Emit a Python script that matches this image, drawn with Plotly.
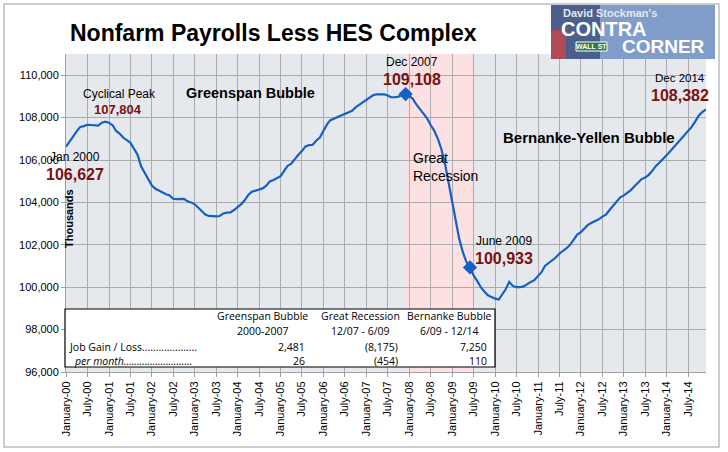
import pandas as pd
import plotly.graph_objects as go

# monthly nonfarm payrolls less HES complex, thousands, Jan 2000 - Dec 2014
months = pd.date_range("2000-01-01", "2014-12-01", freq="MS")
payrolls = [
    106627, 106850, 107100, 107350, 107560, 107600, 107660, 107650, 107640, 107620, 107760, 107804,  # 2000
    107760, 107640, 107380, 107250, 107060, 106950, 106820, 106540, 106250, 105700, 105380, 105050,  # 2001
    104800, 104640, 104560, 104460, 104380, 104330, 104170, 104150, 104150, 104170, 104050, 104000,  # 2002
    103910, 103750, 103560, 103430, 103360, 103340, 103340, 103360, 103480, 103520, 103530, 103640,  # 2003
    103760, 103920, 104100, 104350, 104500, 104560, 104620, 104660, 104790, 104990, 105060, 105150,  # 2004
    105240, 105500, 105720, 105830, 106050, 106250, 106420, 106640, 106700, 106720, 106920, 107060,  # 2005
    107380, 107690, 107880, 107960, 108010, 108100, 108180, 108260, 108320, 108480, 108600, 108730,  # 2006
    108810, 108930, 109060, 109100, 109110, 109100, 109040, 108960, 108960, 108990, 109060, 109108,  # 2007
    109020, 108880, 108620, 108380, 108200, 107960, 107650, 107380, 107000, 106500, 105800, 104880,  # 2008
    104000, 103080, 102290, 101650, 101200, 100933, 100560, 100300, 100000, 99800, 99620, 99540,     # 2009
    99460, 99420, 99620, 99900, 100250, 100060, 100000, 100000, 100040, 100150, 100250, 100330,      # 2010
    100520, 100720, 101000, 101130, 101300, 101400, 101580, 101700, 101840, 102000, 102250, 102480,  # 2011
    102600, 102800, 102940, 103040, 103120, 103200, 103330, 103420, 103640, 103830, 104050, 104240,  # 2012
    104330, 104440, 104580, 104760, 104950, 105100, 105170, 105300, 105500, 105720, 105880, 106030,  # 2013
    106230, 106420, 106600, 106800, 106980, 107160, 107350, 107560, 107820, 108100, 108270, 108382,  # 2014
]

tick_dates = pd.date_range("2000-01-01", "2014-07-01", freq="6MS")
tick_labels = [
    "January-00", "July-00", "January-01", "July-01", "January-02", "July-02",
    "January-03", "July-03", "January-04", "July-04", "January-05", "July-05",
    "January-06", "July-06", "January-07", "July-07", "January-08", "July-08",
    "January-09", "July-09", "January-10", "July-10", "January-11", "July-11",
    "January-12", "July-12", "January-13", "July-13", "January-14", "July-14",
]

recession = ["2007-12-01", "2009-07-01"]
marked_months = ["2007-12-01", "2009-06-01"]

periods = ["Greenspan Bubble", "Great Recession", "Bernanke Bubble"]
period_spans = ["2000-2007", "12/07 - 6/09", "6/09 - 12/14"]
job_change = ["2,481", "(8,175)", "7,250"]
per_month = ["26", "(454)", "110"]

RED = "#7b1010"
BLUE = "#1560c4"
FONT = "Liberation Sans, Arial, sans-serif"
TFONT = "Open Sans, sans-serif"

# plot area in pixels, used to place page furniture
L, R, T, B = 66, 706, 54, 372


def px(x):
    return (x - L) / (R - L)


def py(y):
    return (B - y) / (B - T)


fig = go.Figure()

fig.add_trace(go.Scatter(
    x=months, y=payrolls, mode="lines",
    line=dict(color=BLUE, width=2.2), hoverinfo="skip",
))

mark_vals = [payrolls[list(months).index(pd.Timestamp(m))] for m in marked_months]
fig.add_trace(go.Scatter(
    x=pd.to_datetime(marked_months), y=mark_vals, mode="markers",
    marker=dict(symbol="diamond", size=11, color=BLUE), hoverinfo="skip",
))

# recession band
fig.add_shape(type="rect", xref="x", yref="paper", x0=recession[0], x1=recession[1],
              y0=0, y1=1, fillcolor="#fde0e2", line_width=0, layer="below")

ann = []


def text(x, y, s, size=12, color="black", bold=False, italic=False, anchor="center", font=FONT):
    if bold:
        s = f"<b>{s}</b>"
    if italic:
        s = f"<i>{s}</i>"
    ann.append(dict(x=px(x), y=py(y), xref="paper", yref="paper", text=s, showarrow=False,
                    xanchor=anchor, yanchor="middle",
                    font=dict(family=font, size=size, color=color)))


text(68, 33, "Nonfarm Payrolls Less HES Complex", size=23, bold=True, anchor="left")

text(75, 157, "Jan 2000", size=12)
text(75, 174, "106,627", size=16, color=RED, bold=True)
text(119, 94, "Cyclical Peak", size=12)
text(118, 110, "107,804", size=13, color=RED, bold=True)
text(250, 93, "Greenspan Bubble", size=14.5, bold=True)
text(412, 62, "Dec 2007", size=12)
text(412, 79, "109,108", size=16, color=RED, bold=True)
text(411, 158, "Great", size=14, anchor="left")
text(411, 176, "Recession", size=14, anchor="left")
text(504, 241, "June 2009", size=12)
text(504, 258, "100,933", size=16, color=RED, bold=True)
text(589, 137, "Bernanke-Yellen Bubble", size=15, bold=True)
text(680, 78, "Dec 2014", size=11.5)
text(680, 95, "108,382", size=16, color=RED, bold=True)

ann.append(dict(x=px(61), y=py(219), xref="paper", yref="paper", text="<b>Thousands</b>",
                showarrow=False, textangle=-90, xanchor="left", yanchor="middle",
                font=dict(family=FONT, size=11, color="black")))

# summary table
fig.add_shape(type="rect", xref="paper", yref="paper", x0=px(65), x1=px(495),
              y0=py(367), y1=py(309), fillcolor="white", line=dict(color="black", width=1.2),
              layer="above")
col_centres = [262, 360, 449]
col_rights = [307, 400, 489]
for i in range(3):
    text(col_centres[i], 316, periods[i], size=10.5, font=TFONT)
    text(col_centres[i], 331, period_spans[i], size=10.5, font=TFONT)
    text(col_rights[i], 347, job_change[i], size=10.5, font=TFONT, anchor="right")
    text(col_rights[i], 361, per_month[i], size=10.5, font=TFONT, anchor="right")
text(67, 347, "Job Gain / Loss" + "." * 20, size=10.5, font=TFONT, anchor="left")
text(72, 361, "per month" + "." * 26, size=10.5, font=TFONT, anchor="left", italic=True)

# logo block
fig.add_shape(type="rect", xref="paper", yref="paper", x0=px(551), x1=px(715),
              y0=py(59), y1=py(5), fillcolor="#7f9ccb", line_width=0, layer="above")
fig.add_shape(type="rect", xref="paper", yref="paper", x0=px(551), x1=px(600),
              y0=py(59), y1=py(5), fillcolor="#4a5f8e", line_width=0, layer="above")
fig.add_shape(type="rect", xref="paper", yref="paper", x0=px(551), x1=px(566),
              y0=py(59), y1=py(30), fillcolor="#b04a55", line_width=0, layer="above")
fig.add_shape(type="rect", xref="paper", yref="paper", x0=px(576), x1=px(607),
              y0=py(51), y1=py(42), fillcolor="#2f7a4a", line=dict(color="white", width=1),
              layer="above")
text(610, 13, "David Stockman's", size=11, color="#e6e6e6", bold=True)
text(604, 29, "CONTRA", size=20, color="white", bold=True)
text(591, 46.5, "WALL ST", size=7, color="white", bold=True)
text(663, 47, "CORNER", size=19, color="white", bold=True)

# outer frame
fig.add_shape(type="rect", xref="paper", yref="paper", x0=px(4), x1=px(719),
              y0=py(447), y1=py(4), line=dict(color="#bdbdbd", width=1.5), layer="below")

fig.update_layout(
    width=728, height=452,
    margin=dict(l=L, r=728 - R, t=T, b=452 - B),
    paper_bgcolor="white", plot_bgcolor="#e5e9ee",
    showlegend=False, annotations=ann,
    font=dict(family=FONT, size=11, color="black"),
)
fig.update_xaxes(
    range=[months[0], months[-1]], tickvals=tick_dates, ticktext=tick_labels,
    tickangle=-90, tickfont=dict(size=11), ticks="outside", ticklen=4, tickcolor="#a0a0a0",
    showgrid=True, gridcolor="#acacac", gridwidth=1,
    showline=True, linecolor="#a0a0a0", zeroline=False,
)
fig.update_yaxes(
    range=[96000, 111000], tickvals=list(range(96000, 110001, 2000)), tickformat=",d",
    tickfont=dict(size=11), ticks="outside", ticklen=4, tickcolor="#a0a0a0",
    showgrid=True, gridcolor="#acacac", gridwidth=1,
    showline=True, linecolor="#a0a0a0", zeroline=False,
)

# page body has a default margin; drop it so the figure sits at the window corner
fig.write_html("out.html", config={"displayModeBar": False},
               post_script="document.body.style.margin = '0';")
